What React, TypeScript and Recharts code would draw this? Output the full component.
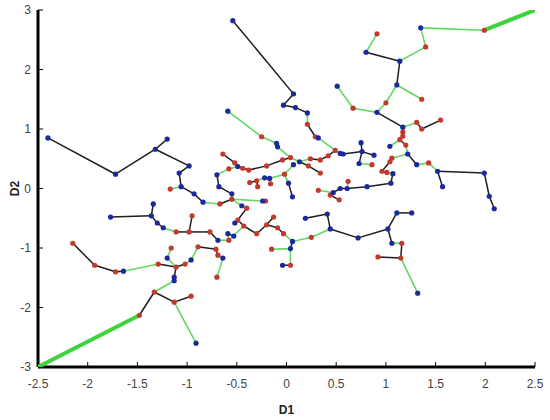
import { ScatterChart, Scatter, XAxis, YAxis, Label } from "recharts";

type Node = [string, number, number];

// node positions (D1, D2)
const blueNodes: Node[] = [
  ["1", -2.4, 0.85], ["2", -1.72, 0.24], ["3", -1.32, 0.66], ["4", -1.2, 0.83],
  ["5", -0.98, 0.38], ["6", -1.08, 0.26], ["7", -1.06, 0.03], ["9", -0.93, -0.09],
  ["10", -0.84, -0.23], ["13", -0.7, 0.23], ["15", -0.68, 0.03], ["16", -0.55, -0.09],
  ["19", -0.49, 0.37], ["25", -0.59, 1.3], ["27", -0.1, 0.76], ["28", -0.09, 0.7],
  ["29", -0.54, 2.82], ["30", 0.07, 1.59], ["31", -0.03, 1.4], ["32", 0.09, 1.36],
  ["33", 0.21, 1.27], ["36", 0.32, 0.85], ["41", 0.13, 0.45], ["44", 0.07, 0.4],
  ["47", -0.17, 0.17], ["48", -0.22, 0.18], ["53", 0.02, 0.09], ["54", 0.06, -0.14],
  ["55", 0.54, 0.59], ["56", 0.57, 0.58], ["57", 0.76, 0.62], ["58", 0.75, 0.77],
  ["59", 0.88, 0.56], ["60", 0.73, 0.42], ["64", 1.07, 0.25], ["65", 1.05, 0.09],
  ["69", 0.47, -0.07], ["70", 0.54, 0.0], ["71", 0.61, 0.0], ["73", 0.81, 0.03],
  ["76", 0.51, 1.72], ["78", 0.91, 1.28], ["80", 1.11, 1.74], ["81", 1.14, 2.14],
  ["83", 1.35, 2.7], ["85", 0.8, 2.29], ["88", 1.17, 1.03], ["96", 1.04, 0.71],
  ["97", 1.22, 0.58], ["98", 1.31, 0.4], ["100", 1.52, 0.29], ["101", 1.57, 0.03],
  ["102", 1.99, 0.26], ["103", 2.04, -0.13], ["104", 2.09, -0.34], ["105", 1.11, -0.41],
  ["106", 1.26, -0.41], ["107", 1.02, -0.68], ["108", 0.72, -0.83], ["109", 1.06, -0.92],
  ["113", 1.32, -1.76], ["114", 0.44, -0.68], ["115", 0.41, -0.43], ["116", 0.19, -0.5],
  ["118", 0.06, -0.89], ["119", 0.04, -1.01], ["122", -0.04, -1.29], ["131", -0.45, -0.29],
  ["132", -0.52, -0.58], ["133", -0.59, -0.76], ["134", -0.53, -0.8], ["136", -0.69, -0.87],
  ["141", -1.24, -0.66], ["142", -1.3, -0.58], ["143", -1.36, -0.46], ["144", -1.34, -0.26],
  ["145", -1.77, -0.48], ["146", -0.24, -0.21], ["149", -1.2, -1.17], ["153", -0.64, -1.17],
  ["156", -0.96, -1.2], ["159", -1.64, -1.39], ["163", -1.13, -1.49], ["164", -1.13, -1.55],
  ["169", -0.91, -2.6],
];

const redNodes: Node[] = [
  ["8", -1.17, -0.01], ["11", -0.67, -0.26], ["12", -0.55, -0.18], ["14", -0.58, 0.33],
  ["17", -0.64, 0.58], ["18", -0.52, 0.43], ["20", -0.44, 0.34], ["21", -0.38, 0.31],
  ["22", -0.2, 0.38], ["23", -0.04, 0.48], ["24", 0.04, 0.52], ["26", -0.25, 0.87],
  ["34", 0.21, 1.08], ["35", 0.29, 0.87], ["37", 0.49, 0.64], ["38", 0.42, 0.55],
  ["39", 0.34, 0.48], ["40", 0.24, 0.5], ["42", 0.34, 0.26], ["43", 0.22, 0.38],
  ["46", -0.02, 0.24], ["49", -0.3, 0.13], ["50", -0.37, 0.1], ["51", -0.16, 0.08],
  ["52", -0.29, 0.03], ["61", 0.86, 0.4], ["62", 0.96, 0.29], ["63", 1.01, 0.27],
  ["66", 1.06, 0.51], ["67", 1.04, 0.45], ["68", 0.32, -0.03], ["72", 0.62, 0.12],
  ["74", 0.44, -0.11], ["75", 0.53, -0.19], ["77", 0.67, 1.35], ["79", 1.0, 1.44],
  ["82", 1.4, 2.38], ["84", 1.99, 2.66], ["86", 0.91, 2.6], ["87", 1.36, 1.5],
  ["89", 1.31, 1.11], ["90", 1.36, 1.0], ["91", 1.55, 1.15], ["92", 1.17, 0.95],
  ["93", 1.17, 0.88], ["94", 1.14, 0.82], ["95", 1.2, 0.73], ["99", 1.43, 0.43],
  ["110", 1.16, -0.92], ["111", 1.15, -1.17], ["112", 0.92, -1.15], ["117", 0.25, -0.82],
  ["120", -0.15, -1.02], ["121", 0.04, -1.29], ["123", -0.03, -0.76], ["124", -0.09, -0.66],
  ["125", -0.13, -0.48], ["126", -0.2, -0.61], ["127", -0.3, -0.76], ["128", -0.43, -0.63],
  ["129", -0.49, -0.53], ["130", -0.4, -0.33], ["135", -0.58, -0.87], ["137", -0.77, -0.73],
  ["138", -0.95, -0.46], ["139", -0.98, -0.73], ["140", -1.11, -0.73], ["147", -0.21, -0.21],
  ["148", -1.16, -1.0], ["150", -0.89, -0.98], ["151", -0.71, -1.02], ["152", -0.69, -1.12],
  ["154", -0.7, -1.49], ["155", -1.02, -1.27], ["157", -1.11, -1.32], ["158", -1.29, -1.27],
  ["160", -1.72, -1.4], ["161", -1.93, -1.29], ["162", -2.15, -0.92], ["165", -1.33, -1.74],
  ["166", -1.13, -1.91], ["167", -0.96, -1.81], ["168", -1.48, -2.13],
];

const blackEdges: [string, string][] = [
  ["1", "2"], ["2", "3"], ["3", "4"], ["3", "5"], ["5", "6"], ["6", "7"], ["7", "9"], ["9", "10"],
  ["11", "12"], ["13", "15"], ["15", "16"], ["17", "18"], ["18", "19"], ["19", "20"], ["20", "21"],
  ["21", "22"], ["22", "23"], ["23", "24"], ["27", "28"], ["29", "30"], ["30", "31"], ["31", "32"],
  ["32", "33"], ["34", "35"], ["37", "38"], ["38", "39"], ["39", "40"], ["41", "43"], ["43", "42"],
  ["47", "48"], ["49", "50"], ["49", "52"], ["53", "54"], ["55", "56"], ["56", "57"], ["57", "58"],
  ["57", "59"], ["57", "60"], ["66", "67"], ["67", "62"], ["62", "63"], ["64", "65"], ["73", "65"],
  ["71", "73"], ["70", "71"], ["69", "70"], ["74", "75"], ["80", "81"], ["85", "81"], ["78", "88"],
  ["89", "90"], ["90", "91"], ["88", "92"], ["92", "93"], ["93", "94"], ["94", "95"], ["97", "98"],
  ["100", "101"], ["100", "102"], ["102", "103"], ["103", "104"], ["105", "106"], ["105", "107"],
  ["107", "108"], ["107", "109"], ["110", "111"], ["111", "112"], ["108", "114"], ["114", "115"],
  ["115", "116"], ["118", "119"], ["121", "122"], ["123", "124"], ["124", "126"], ["126", "125"],
  ["126", "127"], ["127", "128"], ["129", "128"], ["130", "129"], ["146", "147"], ["133", "134"],
  ["136", "137"], ["137", "139"], ["139", "138"], ["139", "140"], ["141", "142"], ["142", "143"],
  ["143", "144"], ["143", "145"], ["150", "151"], ["151", "152"], ["155", "157"], ["157", "158"],
  ["159", "160"], ["160", "161"], ["161", "162"], ["157", "163"], ["163", "164"], ["165", "166"],
  ["166", "167"], ["165", "168"],
];

const greenEdges: [string, string][] = [
  ["7", "8"], ["10", "11"], ["13", "14"], ["16", "12"], ["14", "19"], ["25", "26"], ["26", "27"],
  ["28", "24"], ["33", "34"], ["35", "36"], ["36", "37"], ["40", "41"], ["41", "24"], ["44", "46"],
  ["46", "47"], ["48", "49"], ["47", "51"], ["46", "53"], ["37", "55"], ["60", "61"], ["63", "64"],
  ["68", "69"], ["69", "74"], ["71", "72"], ["76", "77"], ["77", "78"], ["78", "79"], ["79", "80"],
  ["81", "82"], ["82", "83"], ["83", "84"], ["85", "86"], ["80", "87"], ["88", "89"], ["94", "96"],
  ["95", "97"], ["97", "66"], ["98", "99"], ["99", "100"], ["109", "110"], ["111", "113"],
  ["114", "117"], ["117", "118"], ["119", "120"], ["119", "121"], ["118", "123"], ["131", "130"],
  ["12", "131"], ["12", "146"], ["129", "132"], ["133", "135"], ["135", "128"], ["136", "135"],
  ["140", "141"], ["148", "149"], ["149", "157"], ["152", "153"], ["153", "154"], ["156", "150"],
  ["155", "156"], ["158", "159"], ["164", "165"], ["166", "169"],
];

// the two heavy links that run out to the corners of the frame
const cornerLinks: [number, number, string][] = [
  [-2.5, -3, "168"],
  [2.5, 3, "84"],
];

const xTicks = [-2.5, -2, -1.5, -1, -0.5, 0, 0.5, 1, 1.5, 2, 2.5];
const yTicks = [-3, -2, -1, 0, 1, 2, 3];

const pos = new Map<string, { x: number; y: number }>();
[...blueNodes, ...redNodes].forEach(([id, x, y]) => pos.set(id, { x, y }));

const toPoints = (nodes: Node[]) => nodes.map(([, x, y]) => ({ x, y }));
const seg = ([a, b]: [string, string]) => [pos.get(a)!, pos.get(b)!];

const noDot = () => <g />;
const dot = (color: string) => (p: any) => <circle cx={p.cx} cy={p.cy} r={2.6} fill={color} />;

const tickStyle = { fill: "#444", fontSize: 12, fontFamily: "Arial, 'Liberation Sans', sans-serif" };
const axisLine = { stroke: "#000", strokeWidth: 3 };

const D2Label = (props: any) => {
  const { viewBox } = props;
  const x = viewBox.x + 7;
  const y = viewBox.y + viewBox.height / 2;
  return (
    <text x={x} y={y} transform={`rotate(-90 ${x} ${y})`} textAnchor="middle" dominantBaseline="central"
      fontSize={12} fontWeight="bold" fontFamily="Arial, 'Liberation Sans', sans-serif" fill="#222">
      D2
    </text>
  );
};

export default function App() {
  return (
    <div style={{ position: "absolute", left: 0, top: 0, background: "#fff" }}>
      <ScatterChart width={550} height={420} margin={{ top: 10, right: 15, bottom: 23, left: 8 }}>
        <XAxis type="number" dataKey="x" domain={[-2.5, 2.5]} ticks={xTicks} allowDataOverflow
          height={30} axisLine={axisLine} tickLine={{ stroke: "#000" }} tickSize={-5} tickMargin={17}
          tick={tickStyle} interval={0}>
          <Label value="D1" position="bottom" offset={8}
            style={{ fontSize: 12, fontWeight: "bold", fill: "#222", fontFamily: "Arial, 'Liberation Sans', sans-serif" }} />
        </XAxis>
        <YAxis type="number" dataKey="y" domain={[-3, 3]} ticks={yTicks} allowDataOverflow
          width={30} axisLine={axisLine} tickLine={{ stroke: "#000" }} tickSize={-5} tickMargin={12}
          tick={tickStyle} interval={0}>
          <Label content={<D2Label />} />
        </YAxis>
        <XAxis xAxisId="top" orientation="top" type="number" domain={[-2.5, 2.5]} ticks={xTicks}
          allowDataOverflow height={0} axisLine={axisLine} tickLine={{ stroke: "#000" }} tickSize={-5}
          tick={false} interval={0} />
        <YAxis yAxisId="right" orientation="right" type="number" domain={[-3, 3]} ticks={yTicks}
          allowDataOverflow width={0} axisLine={axisLine} tickLine={{ stroke: "#000" }} tickSize={-5}
          tick={false} interval={0} />

        {cornerLinks.map(([x, y, id], i) => (
          <Scatter key={`c${i}`} data={[{ x, y }, pos.get(id)!]} line={{ stroke: "#3fd43f", strokeWidth: 4 }}
            shape={noDot} isAnimationActive={false} />
        ))}
        {greenEdges.map((e, i) => (
          <Scatter key={`g${i}`} data={seg(e)} line={{ stroke: "#62d862", strokeWidth: 1.6 }}
            shape={noDot} isAnimationActive={false} />
        ))}
        {blackEdges.map((e, i) => (
          <Scatter key={`k${i}`} data={seg(e)} line={{ stroke: "#1e1e1e", strokeWidth: 1.5 }}
            shape={noDot} isAnimationActive={false} />
        ))}
        <Scatter data={toPoints(redNodes)} shape={dot("#c23a2c")} isAnimationActive={false} />
        <Scatter data={toPoints(blueNodes)} shape={dot("#1a2a9a")} isAnimationActive={false} />
      </ScatterChart>
    </div>
  );
}
